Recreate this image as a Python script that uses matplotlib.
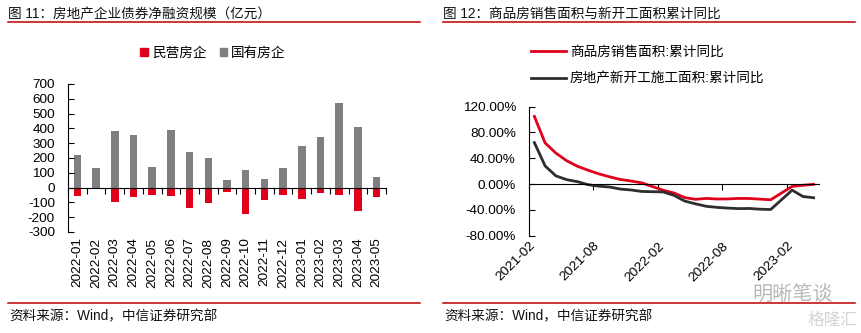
import matplotlib
matplotlib.use("Agg")
import matplotlib.pyplot as plt
import numpy as np
from matplotlib.lines import Line2D
from matplotlib.patches import Patch

plt.rcParams["font.family"] = ["Liberation Sans", "Noto Sans CJK SC"]
plt.rcParams["axes.unicode_minus"] = False
plt.rcParams["font.size"] = 9.5

RED = "#E0001B"
GRAY = "#7F7F7F"
DARK = "#2E2E2E"
RULE = "#C00000"

# bond net financing, 100m yuan
months = ["2022-01", "2022-02", "2022-03", "2022-04", "2022-05", "2022-06",
          "2022-07", "2022-08", "2022-09", "2022-10", "2022-11", "2022-12",
          "2023-01", "2023-02", "2023-03", "2023-04", "2023-05"]
private_dev = [-56, -2, -97, -61, -50, -56, -138, -104, -29, -181, -86, -47,
               -77, -34, -50, -156, -61]
state_dev = [220, 130, 385, 355, 140, 390, 240, 200, 50, 118, 60, 135,
             280, 340, 570, 408, 72]

# cumulative yoy, %
line_months = ["2021-02", "2021-03", "2021-04", "2021-05", "2021-06", "2021-07",
               "2021-08", "2021-09", "2021-10", "2021-11", "2021-12",
               "2022-02", "2022-03", "2022-04", "2022-05", "2022-06", "2022-07",
               "2022-08", "2022-09", "2022-10", "2022-11", "2022-12",
               "2023-02", "2023-03", "2023-04"]
sales_area = [104.9, 63.8, 48.1, 36.3, 27.7, 21.5, 15.9, 11.3, 7.2, 4.8, 1.9,
              -9.6, -13.8, -20.9, -23.6, -22.2, -23.1, -23.0, -22.2, -22.3, -23.3, -24.3,
              -3.6, -1.8, -0.4]
new_starts = [64.3, 28.2, 12.8, 6.9, 3.8, -0.9, -3.2, -4.5, -7.7, -9.1, -11.4,
              -12.2, -17.5, -26.3, -30.6, -34.4, -36.1, -37.2, -38.0, -37.8, -38.9, -39.4,
              -9.4, -19.2, -21.2]
date_labels = ["2021-02", "2021-08", "2022-02", "2022-08", "2023-02"]

W, H = 862, 333
fig = plt.figure(figsize=(W / 100, H / 100), dpi=100)


def fx(px):
    return px / W


def fy(py):
    return 1 - py / H


# headers, rules and sources
for x0, x1, title in [(8, 420, "图 11：房地产企业债券净融资规模（亿元）"),
                      (443, 855, "图 12：商品房销售面积与新开工面积累计同比")]:
    fig.text(fx(x0), fy(14), title, fontsize=9.8, va="center", ha="left", color="#111111")
    fig.add_artist(Line2D([fx(x0), fx(x1)], [fy(22), fy(22)], color=RULE, lw=1.1))
    fig.add_artist(Line2D([fx(x0), fx(x1)], [fy(303), fy(303)], color=RULE, lw=1.1))
    fig.text(fx(x0 + 1), fy(316), "资料来源：Wind，中信证券研究部", fontsize=9.8,
             va="center", ha="left", color="#111111")

fig.text(fx(752), fy(294), "明晰笔谈", fontsize=14.5, color="#B8B8B8", va="center", ha="left")
fig.text(fx(808), fy(320), "格隆汇", fontsize=12, color="#D4D4D4", va="center", ha="left")

# left: bars
ax1 = fig.add_axes([fx(68), fy(232), fx(386 - 68), fy(84) - fy(232)])
x = np.arange(len(months))
ax1.bar(x, private_dev, width=0.4, color=RED, label="民营房企")
ax1.bar(x, state_dev, width=0.4, color=GRAY, label="国有房企")
ax1.set_xlim(-0.5, len(months) - 0.5)
ax1.set_ylim(-300, 700)
ax1.set_yticks(np.arange(-300, 701, 100))
ax1.spines[["top", "right"]].set_visible(False)
ax1.spines["bottom"].set_position(("data", 0))
ax1.set_xticks(np.arange(len(months) + 1) - 0.5)
ax1.tick_params(axis="x", direction="out", length=4, labelbottom=False)
ax1.tick_params(axis="y", direction="in", length=4, pad=9.4, labelsize=9.7)
sec1 = ax1.secondary_xaxis(0)
sec1.set_xticks(x, labels=months, rotation=90, fontsize=9.7)
sec1.tick_params(length=0, pad=4)
sec1.spines["bottom"].set_visible(False)
fig.legend(handles=[Patch(color=RED, label="民营房企"), Patch(color=GRAY, label="国有房企")],
           loc="center", bbox_to_anchor=(fx(213), fy(53)), ncol=2, frameon=False,
           handlelength=0.55, handleheight=0.55, handletextpad=0.3, columnspacing=1.0,
           fontsize=9.8, borderpad=0)

# right: lines
ax2 = fig.add_axes([fx(529), fy(235.7), fx(819 - 529), fy(106.7) - fy(235.7)])


def month_pos(m):
    y, mo = int(m[:4]), int(m[5:])
    return (y - 2021) * 12 + (mo - 2)


lx = np.array([month_pos(m) for m in line_months]) + 0.5
ax2.plot(lx, sales_area, color=RED, lw=2.0, label="商品房销售面积:累计同比")
ax2.plot(lx, new_starts, color=DARK, lw=2.0, label="房地产新开工施工面积:累计同比")
ax2.set_xlim(0, 27)
ax2.set_ylim(-80, 120)
yt = np.arange(-80, 121, 40)
ax2.set_yticks(yt, labels=[f"{v:.2f}%" for v in yt])
ax2.spines[["top", "right"]].set_visible(False)
ax2.spines["bottom"].set_position(("data", 0))
tick_pos = [month_pos(m) for m in date_labels]
ax2.set_xticks(tick_pos)
ax2.tick_params(axis="x", direction="out", length=4, labelbottom=False)
ax2.tick_params(axis="y", direction="in", length=4, pad=9.4, labelsize=9.7)
sec2 = ax2.secondary_xaxis(0)
sec2.set_xticks(tick_pos, labels=date_labels, rotation=45, ha="right",
                rotation_mode="anchor", fontsize=9.7)
sec2.tick_params(length=0, pad=3)
sec2.spines["bottom"].set_visible(False)
fig.legend(handles=ax2.get_lines(), loc="center left", bbox_to_anchor=(fx(531), fy(65)),
           frameon=False, handlelength=2.6, handletextpad=0.25, labelspacing=0.95,
           fontsize=9.8, borderpad=0, borderaxespad=0)

fig.savefig("out.png", dpi=100)
